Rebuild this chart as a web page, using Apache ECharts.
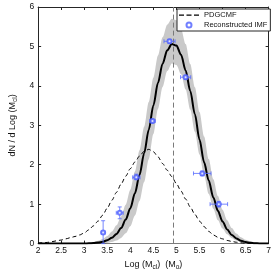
<!DOCTYPE html>
<html>
<head>
<meta charset="utf-8">
<script src="https://cdn.jsdelivr.net/npm/echarts@6/dist/echarts.min.js"></script>
<style>
html,body{margin:0;padding:0;background:#fff;}
#c{width:274px;height:276px;}
</style>
</head>
<body>
<div id="c"></div>
<script>
// ---- Data ----
const xs = [2.0,2.1,2.2,2.3,2.4,2.5,2.6,2.7,2.8,2.9,
            3.0,3.1,3.2,3.3,3.4,3.5,3.6,3.7,3.8,3.9,
            4.0,4.1,4.2,4.3,4.4,4.5,4.6,4.7,4.8,4.9,
            5.0,5.1,5.2,5.3,5.4,5.5,5.6,5.7,5.8,5.9,
            6.0,6.1,6.2,6.3,6.4,6.5,6.6,6.7,6.8,6.9,7.0];

// best-fit curve (solid)
const fitCurve = [0,0,0,0,0,0,0,0,0.001,0.002,
                  0.003,0.006,0.013,0.025,0.047,0.085,0.147,0.246,0.395,0.608,
                  0.899,1.278,1.746,2.292,2.890,3.503,4.078,4.563,4.901,5.061,
                  5.021,4.79,4.39,3.87,3.28,2.64,2.06,1.60,1.17,0.83,
                  0.56,0.36,0.22,0.13,0.075,0.04,0.02,0.01,0.005,0.002,0.001];

// uncertainty band
const bandUpper = [0,0,0,0,0,0,0,0.001,0.003,0.006,
                   0.012,0.023,0.041,0.071,0.119,0.194,0.307,0.468,0.690,0.988,
                   1.367,1.828,2.366,2.963,3.590,4.207,4.769,5.232,5.553,5.700,
                   5.664,5.444,5.062,4.553,3.963,3.337,2.718,2.143,1.634,1.207,
                   0.860,0.594,0.397,0.257,0.161,0.097,0.057,0.032,0.018,0.009,0.005];
const bandLower = [0,0,0,0,0,0,0,0,0,0,
                   0,0,0,0.003,0.008,0.018,0.038,0.077,0.145,0.260,
                   0.442,0.711,1.084,1.564,2.142,2.777,3.411,3.969,4.375,4.570,
                   4.53,4.30,3.91,3.40,2.834,2.262,1.729,1.264,0.886,0.594,
                   0.382,0.235,0.138,0.078,0.042,0.022,0.011,0.005,0,0,0];

// PDGCMF (dashed)
const pdgcmf = [0.02,0.02,0.03,0.05,0.07,0.09,0.12,0.15,0.18,0.22,
                0.27,0.35,0.45,0.57,0.72,0.90,1.10,1.30,1.51,1.71,
                1.90,2.07,2.22,2.34,2.39,2.33,2.20,2.03,1.86,1.70,
                1.52,1.33,1.13,0.93,0.74,0.57,0.43,0.31,0.22,0.16,
                0.12,0.08,0.055,0.035,0.02,0.01,0.005,0,0,0,0];

// Reconstructed IMF points with error bars
const ptX   = [3.41, 3.77, 4.13, 4.48, 4.85, 5.20, 5.56, 5.92];
const ptY   = [0.28, 0.78, 1.68, 3.11, 5.13, 4.22, 1.78, 1.00];
const ptXlo = [3.37, 3.695, 4.05, 4.42, 4.73, 5.09, 5.37, 5.73];
const ptXhi = [3.45, 3.845, 4.21, 4.54, 4.97, 5.31, 5.75, 6.11];
const ptYlo = [0.00, 0.63, 1.62, 3.06, 5.08, 4.17, 1.72, 0.93];
const ptYhi = [0.58, 0.93, 1.76, 3.16, 5.18, 4.27, 1.84, 1.07];

const peakX = 4.93;   // vertical dashed line

const xTicks = {min: 2, max: 7, interval: 0.5};
const yTicks = {min: 0, max: 6, interval: 1};

const seriesNames = ['PDGCMF', 'Reconstructed IMF'];

// ---- Build ----
const pair = (a) => xs.map((x, i) => [x, a[i]]);
const ptData = ptX.map((x, i) => [x, ptY[i], ptXlo[i], ptXhi[i], ptYlo[i], ptYhi[i]]);

const FONT = 'Liberation Sans, Arial, Helvetica, sans-serif';
const AX = '#262626';
const ERR = 'rgba(85,105,255,0.8)';
const PT = '#4d5fff';

// dashed-line legend glyph (bounding box 20 x 5, three dashes in the middle)
const DASH_ICON = 'path://M0,0H0.01V0.01H0Z M0,2H5V3.3H0Z M7.5,2H12.5V3.3H7.5Z M15,2H20V3.3H15Z M19.99,4.99H20V5H19.99Z';

function renderErr(params, api) {
  const x = api.value(0), y = api.value(1);
  const pL = api.coord([api.value(2), y]);
  const pR = api.coord([api.value(3), y]);
  const pB = api.coord([x, api.value(4)]);
  const pT = api.coord([x, api.value(5)]);
  const c = 2;
  const st = {stroke: ERR, lineWidth: 1, fill: null};
  const ln = (x1, y1, x2, y2) => ({type: 'line', shape: {x1, y1, x2, y2}, style: st});
  return {type: 'group', children: [
    ln(pL[0], pL[1], pR[0], pR[1]),
    ln(pB[0], pB[1], pT[0], pT[1]),
    ln(pB[0]-c, pB[1], pB[0]+c, pB[1]),
    ln(pT[0]-c, pT[1], pT[0]+c, pT[1]),
    ln(pL[0], pL[1]-c, pL[0], pL[1]+c),
    ln(pR[0], pR[1]-c, pR[0], pR[1]+c)
  ]};
}

const axisCommon = {
  type: 'value',
  axisLine: {show: true, onZero: false, lineStyle: {color: AX, width: 1}},
  axisTick: {show: true, inside: true, length: 3, lineStyle: {color: AX}},
  splitLine: {show: false}
};

const chart = echarts.init(document.getElementById('c'), null, {renderer: 'canvas'});
chart.setOption({
  animation: false,
  backgroundColor: '#fff',
  textStyle: {fontFamily: FONT},
  grid: {left: 24, right: 4, top: 7, bottom: 24, containLabel: false},
  legend: {
    show: true,
    data: [
      {name: seriesNames[0], icon: DASH_ICON, itemStyle: {color: '#000'}},
      {name: seriesNames[1], icon: 'emptyCircle'}
    ],
    orient: 'vertical',
    left: 177, top: 9,
    padding: [2, 3, 2, 2],
    itemGap: 2,
    itemWidth: 20, itemHeight: 5,
    borderColor: AX, borderWidth: 1,
    backgroundColor: '#fff',
    textStyle: {fontSize: 7.5, color: '#111', fontFamily: FONT},
    selectedMode: false,
    z: 20
  },
  xAxis: [
    Object.assign({}, axisCommon, {
      position: 'bottom', min: xTicks.min, max: xTicks.max, interval: xTicks.interval,
      axisLabel: {fontSize: 8.5, color: '#111', margin: 3, fontFamily: FONT},
      name: 'Log (M{s|cl})  (M{s|o})',
      nameLocation: 'middle', nameGap: 8,
      nameTextStyle: {fontSize: 9, color: '#111', fontFamily: FONT, verticalAlign: 'top',
        rich: {s: {fontSize: 6.5, verticalAlign: 'bottom', padding: [5, 0, 0, 0], color: '#111'}}}
    }),
    Object.assign({}, axisCommon, {
      position: 'top', min: xTicks.min, max: xTicks.max, interval: xTicks.interval,
      axisLabel: {show: false}
    })
  ],
  yAxis: [
    Object.assign({}, axisCommon, {
      position: 'left', min: yTicks.min, max: yTicks.max, interval: yTicks.interval,
      axisLabel: {fontSize: 8.5, color: '#111', margin: 4, fontFamily: FONT},
      name: 'dN / d Log (M{s|cl})',
      nameLocation: 'middle', nameGap: 12,
      nameTextStyle: {fontSize: 9, color: '#111', fontFamily: FONT,
        rich: {s: {fontSize: 6.5, padding: [5, 0, 0, 0], color: '#111'}}}
    }),
    Object.assign({}, axisCommon, {
      position: 'right', min: yTicks.min, max: yTicks.max, interval: yTicks.interval,
      axisLabel: {show: false}
    })
  ],
  series: [
    {
      name: 'bandHigh', type: 'line', data: pair(bandUpper),
      symbol: 'none', smooth: 0.3, smoothMonotone: 'x',
      lineStyle: {width: 0, opacity: 0},
      areaStyle: {color: '#c9c9c9', opacity: 1, origin: 'start'}, silent: true, z: 1
    },
    {
      name: 'bandLow', type: 'line', data: pair(bandLower),
      symbol: 'none', smooth: 0.3, smoothMonotone: 'x',
      lineStyle: {width: 0, opacity: 0},
      areaStyle: {color: '#ffffff', opacity: 1, origin: 'start'}, silent: true, z: 1
    },
    {
      name: 'vline', type: 'line', data: [], z: 2,
      markLine: {
        silent: true, symbol: 'none', label: {show: false},
        lineStyle: {color: '#7a7a7a', type: [5, 3], width: 1},
        data: [{xAxis: peakX}]
      }
    },
    {
      name: seriesNames[0], type: 'line', data: pair(pdgcmf), z: 3,
      symbol: 'none', smooth: 0.3, smoothMonotone: 'x',
      itemStyle: {color: '#000'},
      lineStyle: {color: '#000', width: 1, type: [4, 3]}
    },
    {
      name: 'fit', type: 'line', data: pair(fitCurve), z: 4,
      symbol: 'none', smooth: 0.3, smoothMonotone: 'x',
      lineStyle: {color: '#000', width: 2}
    },
    {
      name: 'err', type: 'custom', data: ptData, z: 5,
      encode: {x: 0, y: 1},
      renderItem: renderErr, silent: true
    },
    {
      name: seriesNames[1], type: 'scatter', z: 6,
      data: ptX.map((x, i) => [x, ptY[i]]),
      symbol: 'emptyCircle', symbolSize: 4,
      itemStyle: {color: PT, borderColor: PT, borderWidth: 1}
    }
  ]
});
</script>
</body>
</html>
